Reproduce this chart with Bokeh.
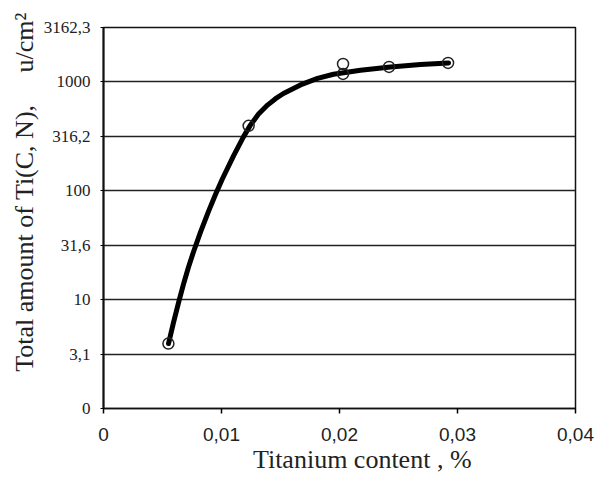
from bokeh.plotting import figure
from bokeh.models import FixedTicker, Range1d
from bokeh.embed import file_html
from bokeh.resources import INLINE

# smooth fitted curve (titanium content %, total amount u/cm^2)
curve_x = [0.00551, 0.00593, 0.00636, 0.00678, 0.00720, 0.00763, 0.00822, 0.00890, 0.00949, 0.01008,
           0.01102, 0.01186, 0.01246, 0.01314, 0.01390, 0.01458, 0.01525, 0.01669, 0.01814, 0.01949,
           0.02178, 0.02432, 0.02686, 0.02924]
curve_y = [3.95, 6.15, 9.39, 13.87, 19.87, 27.56, 41.71, 64.7, 92.3, 128.9,
           209.5, 312.9, 403.2, 506.6, 612.7, 701.3, 782.6, 938.6, 1077, 1177,
           1281, 1374, 1444, 1494]

# measured points
pts_x = [0.0055, 0.0123, 0.0203, 0.0203, 0.0242, 0.0292]
pts_y = [3.95, 395, 1462, 1184, 1374, 1494]

x_ticks = [0, 0.01, 0.02, 0.03, 0.04]
x_labels = ["0", "0,01", "0,02", "0,03", "0,04"]
y_ticks = [1, 3.1623, 10, 31.623, 100, 316.23, 1000, 3162.3]
y_labels = ["0", "3,1", "10", "31,6", "100", "316,2", "1000", "3162,3"]

p = figure(width=597, height=484, output_backend="svg", toolbar_location=None,
           y_axis_type="log",
           x_range=Range1d(0, 0.04), y_range=Range1d(y_ticks[0], y_ticks[-1]),
           min_border_left=103, min_border_right=22, min_border_top=27, min_border_bottom=76)

p.background_fill_color = "white"
p.border_fill_color = "white"
p.outline_line_color = "#111111"
p.outline_line_width = 1.5

p.line(curve_x, curve_y, line_color="black", line_width=5, line_join="round", line_cap="round")
p.scatter(pts_x, pts_y, marker="circle", size=11, fill_alpha=0, line_color="#222222", line_width=1.5)

p.xgrid.visible = False
p.ygrid.ticker = FixedTicker(ticks=y_ticks)
p.ygrid.grid_line_color = "#222222"
p.ygrid.grid_line_width = 1.5

xa = p.xaxis[0]
xa.ticker = FixedTicker(ticks=x_ticks)
xa.major_label_overrides = {t: l for t, l in zip(x_ticks, x_labels)}
xa.minor_tick_line_color = None
xa.major_tick_out = 5
xa.major_tick_in = 0
xa.major_tick_line_width = 1.5
xa.axis_line_width = 1.5
xa.axis_line_color = "#111111"
xa.major_label_text_font = "Liberation Sans"
xa.major_label_text_font_size = "19px"
xa.major_label_text_color = "#222222"
xa.major_label_standoff = 14
xa.axis_label = "\u00a0" * 7 + "Titanium content , %"
xa.axis_label_text_font = "Liberation Serif"
xa.axis_label_text_font_size = "26px"
xa.axis_label_text_font_style = "normal"
xa.axis_label_text_color = "#222222"
xa.axis_label_standoff = 1

ya = p.yaxis[0]
ya.ticker = FixedTicker(ticks=y_ticks)
ya.major_label_overrides = {t: l for t, l in zip(y_ticks, y_labels)}
ya.minor_tick_line_color = None
ya.major_tick_out = 3
ya.major_tick_in = 0
ya.axis_line_width = 2
ya.axis_line_color = "#111111"
ya.major_label_text_font = "Liberation Serif"
ya.major_label_text_font_size = "17px"
ya.major_label_text_color = "#222222"
ya.major_label_standoff = 10
ya.axis_label = "\u00a0" * 8 + "Total amount of Ti(C, N),\u00a0\u00a0\u00a0\u00a0\u00a0u/cm\u00b2"
ya.axis_label_text_font = "Liberation Serif"
ya.axis_label_text_font_size = "26px"
ya.axis_label_text_font_style = "normal"
ya.axis_label_text_color = "#222222"
ya.axis_label_standoff = 2

open("out.html", "w").write(file_html(p, INLINE))
